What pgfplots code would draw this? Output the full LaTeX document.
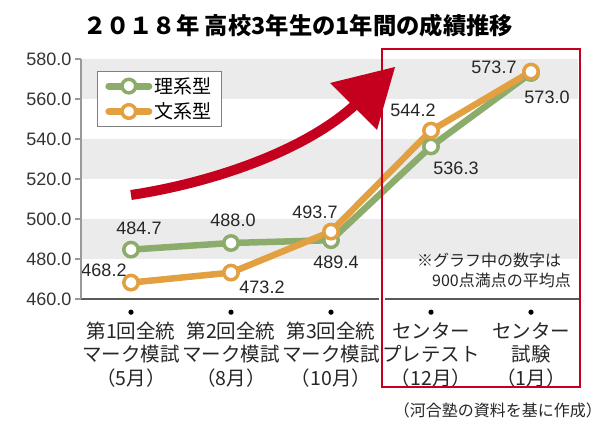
\documentclass[border=0pt]{standalone}
\usepackage{pgfplots}
\pgfplotsset{compat=1.18}
\usepackage{fontspec}
\setmainfont{Liberation Sans}
\newfontfamily\cjk{Noto Sans CJK JP}
\definecolor{gcol}{HTML}{8CAC6C}
\definecolor{ocol}{HTML}{E3A040}
\definecolor{rcol}{HTML}{C4001E}
\definecolor{band}{HTML}{EBEBEB}
\pgfplotsset{
  gline/.style={color=gcol, line width=6.5pt, line join=round, mark=*,
    mark size=7.2pt, mark options={fill=white, draw=gcol, line width=3.5pt}},
  oline/.style={color=ocol, line width=6.5pt, line join=round, mark=*,
    mark size=7.2pt, mark options={fill=white, draw=ocol, line width=3.5pt}},
}
\tikzset{lab/.style={font=\fontsize{18}{18}\selectfont, text=black!85, inner sep=0pt}}
\newcommand{\tdot}{\tikz[baseline=0pt]\fill[black] (0,2.6pt) circle (2.6pt);}
\begin{document}
\begin{tikzpicture}
\useasboundingbox (-81pt,-129pt) rectangle (529pt,299pt);
\begin{axis}[
  at={(0pt,0pt)}, anchor=south west,
  scale only axis, width=499pt, height=240pt,
  xmin=-0.5, xmax=4.49, ymin=460, ymax=580,
  axis on top, clip=false,
  axis x line*=bottom, axis y line*=left,
  x axis line style={draw=black!65, line width=1.2pt},
  y axis line style={draw=black!40, line width=1.2pt},
  xtick={0,1,2,3,4},
  xticklabels={
    {\tdot\\第1回全統\\マーク模試\\（5月）},
    {\tdot\\第2回全統\\マーク模試\\（8月）},
    {\tdot\\第3回全統\\マーク模試\\（10月）},
    {\tdot\\センター\\プレテスト\\（12月）},
    {\tdot\\センター\\試験\\（1月）}},
  x tick style={draw=none},
  xticklabel style={font=\cjk\fontsize{19.5}{23.5}\selectfont, align=center, anchor=north, inner sep=0pt, yshift=-4.4pt, text=black!85},
  ytick={460,480,...,580},
  y tick style={draw=black!40, line width=1.2pt},
  tick align=outside, major tick length=6pt,
  yticklabel style={/pgf/number format/fixed, /pgf/number format/fixed zerofill, /pgf/number format/precision=1,
    font=\fontsize{18}{18}\selectfont, text=black!80},
  /pgf/number format/assume math mode=true,
  legend style={at={(0.032,0.95)}, anchor=north west, draw=black!50, line width=0.8pt, fill=white,
    font=\cjk\fontsize{19}{19}\selectfont, inner xsep=8pt, inner ysep=4pt, row sep=4pt,
    /tikz/every even column/.append style={column sep=7pt}},
  legend cell align=left,
]
\fill[band] (axis cs:-0.5,480) rectangle (axis cs:4.47,500);
\fill[band] (axis cs:-0.5,520) rectangle (axis cs:4.47,540);
\fill[band] (axis cs:-0.5,560) rectangle (axis cs:4.47,580);
\addlegendimage{legend image code/.code={\draw[gcol, line width=7pt, line cap=round] (0pt,0pt)--(40pt,0pt); \draw[gcol, fill=white, line width=3.5pt] (20pt,0pt) circle (6.8pt);}}
\addlegendentry{理系型}
\addlegendimage{legend image code/.code={\draw[ocol, line width=7pt, line cap=round] (0pt,0pt)--(40pt,0pt); \draw[ocol, fill=white, line width=3.5pt] (20pt,0pt) circle (6.8pt);}}
\addlegendentry{文系型}
\addplot[gline, forget plot] coordinates {(0,484.7) (1,488.0) (2,489.4) (3,536.3) (4,573.0)};
\addplot[oline, forget plot] coordinates {(0,468.2) (1,473.2) (2,493.7) (3,544.2) (4,573.7)};
\node[lab, xshift=8pt, yshift=21.6pt] at (axis cs:0,484.7) {484.7};
\node[lab, xshift=2pt, yshift=23pt] at (axis cs:1,488.0) {488.0};
\node[lab, xshift=5pt, yshift=-22pt] at (axis cs:2,489.4) {489.4};
\node[lab, xshift=25pt, yshift=-21.6pt] at (axis cs:3,536.3) {536.3};
\node[lab, xshift=16pt, yshift=-24pt] at (axis cs:4,573.0) {573.0};
\node[lab, xshift=-27pt, yshift=12.6pt] at (axis cs:0,468.2) {468.2};
\node[lab, xshift=31pt, yshift=-14.4pt] at (axis cs:1,473.2) {473.2};
\node[lab, xshift=-16pt, yshift=19.6pt] at (axis cs:2,493.7) {493.7};
\node[lab, xshift=-18pt, yshift=20.6pt] at (axis cs:3,544.2) {544.2};
\node[lab, xshift=-37pt, yshift=4.6pt] at (axis cs:4,573.7) {573.7};
\end{axis}
% decorations (pt relative to the axis' lower left corner)
\node[font=\cjk\bfseries\fontsize{23.3}{23.3}\selectfont, text=black] at (217pt,273pt) {２０１８年 高校3年生の1年間の成績推移};
\draw[rcol, line width=10pt] (50pt,104pt) .. controls (130pt,116pt) and (225pt,148pt) .. (276pt,196pt);
\fill[rcol] (249pt,216pt) -- (314pt,232pt) -- (296pt,169pt) -- cycle;
\draw[white, line width=6pt] (301pt,-1.5pt) -- (301pt,1.5pt);
\draw[rcol, line width=2pt] (301pt,250pt) rectangle (499pt,-88pt);
\node[font=\cjk\fontsize{16}{16}\selectfont, anchor=west, inner sep=0pt, text=black!85] at (336pt,39pt) {※グラフ中の数字は};
\node[font=\cjk\fontsize{16}{16}\selectfont, anchor=west, inner sep=0pt, text=black!85] at (351pt,19pt) {900点満点の平均点};
\node[font=\cjk\fontsize{16}{16}\selectfont, anchor=east, inner sep=0pt, text=black!85] at (521pt,-111pt) {（河合塾の資料を基に作成）};
\end{tikzpicture}
\end{document}
